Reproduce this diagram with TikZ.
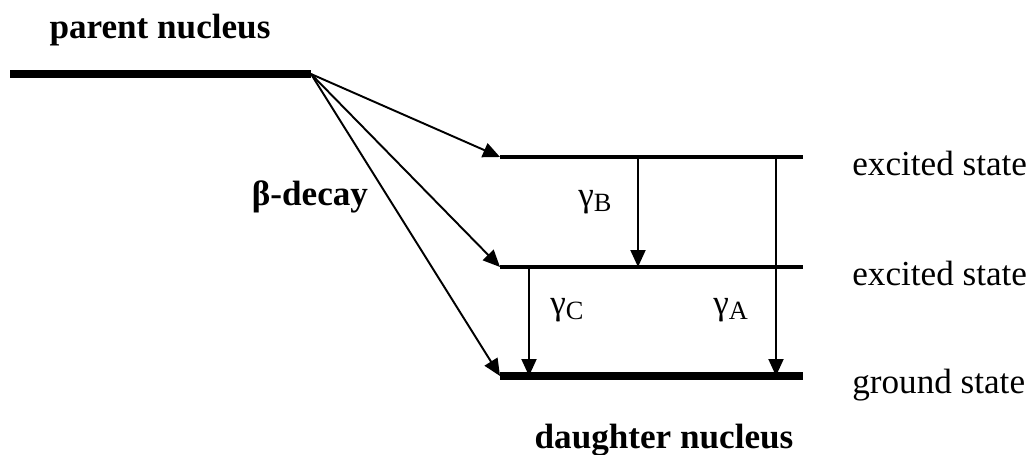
\documentclass[tikz,border=0pt]{standalone}
\usepackage{fontspec}
\setmainfont{Liberation Serif}
\usetikzlibrary{arrows.meta}
\tikzset{
  level/.style={line width=2.3pt},
  ground/.style={line width=5pt},
  decay/.style={line width=1.1pt,-{Triangle[length=0.34cm,width=0.3cm]}},
  lbl/.style={anchor=base,inner sep=0pt},
  title/.style={lbl,font=\fontsize{20}{24}\selectfont\bfseries},
}
\newcommand{\gsub}[1]{γ\raisebox{-3pt}{\fontsize{15}{15}\selectfont #1}}
\begin{document}
\begin{tikzpicture}[x=0.02cm,y=-0.02cm,font=\fontsize{20}{24}\selectfont]
\useasboundingbox(0,0)rectangle(1035,454);
%levels
\coordinate (pl) at (10,74);
\coordinate (pr) at (311,74);
\coordinate (e2l) at (500,157);
\coordinate (e2r) at (803,157);
\coordinate (e1l) at (500,267);
\coordinate (e1r) at (803,267);
\coordinate (gl) at (500,376);
\coordinate (gr) at (803,376);
\draw[ground](pl)--(pr); %parent
\draw[level](e2l)--(e2r);
\draw[level](e1l)--(e1r);
\draw[ground](gl)--(gr); %ground
%beta decay
\draw[decay](pr)--(e2l);
\draw[decay](pr)--(e1l);
\draw[decay](pr)--(gl);
%gammas
\coordinate (b1) at (638,157);
\coordinate (b2) at (638,267);
\coordinate (a1) at (776,157);
\coordinate (a2) at (776,376);
\coordinate (c1) at (529,267);
\coordinate (c2) at (529,376);
\draw[decay](b1)--(b2);
\draw[decay](a1)--(a2);
\draw[decay](c1)--(c2);
%labels
\node[title] (parent) at (160,38){parent nucleus};
\node[title] (beta) at (310,205){β-decay};
\node[title] (daughter) at (664,448){daughter nucleus};
\node[lbl,anchor=base west] (ex2) at (852,175){excited state};
\node[lbl,anchor=base west] (ex1) at (852,285){excited state};
\node[lbl,anchor=base west] (gs) at (852,393){ground state};
\node[lbl,anchor=base west] (gB) at (578,206){\gsub{B}};
\node[lbl,anchor=base west] (gC) at (550,314){\gsub{C}};
\node[lbl,anchor=base west] (gA) at (713,314){\gsub{A}};
\end{tikzpicture}
\end{document}
